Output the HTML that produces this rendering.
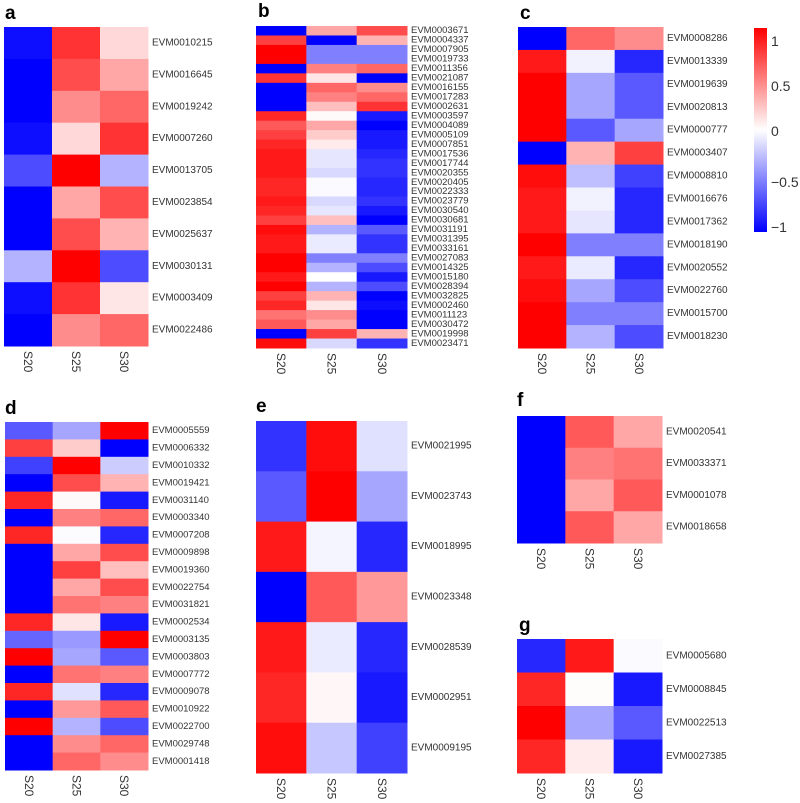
<!DOCTYPE html>
<html><head><meta charset="utf-8"><style>
html,body{margin:0;padding:0;background:#fff;}
svg{display:block;font-family:"Liberation Sans",Arial,sans-serif;}
</style></head><body>
<svg id="fig" width="800" height="803" viewBox="0 0 800 803" xmlns="http://www.w3.org/2000/svg"></svg>
<script>
const samples = ["S20","S25","S30"];
const genesA = ["EVM0010215","EVM0016645","EVM0019242","EVM0007260","EVM0013705","EVM0023854","EVM0025637","EVM0030131","EVM0003409","EVM0022486"];
const valuesA = [[-0.95,0.8,0.15],[-1,0.7,0.35],[-1,0.45,0.6],[-0.95,0.15,0.8],[-0.7,1,-0.3],[-1,0.35,0.7],[-1,0.7,0.3],[-0.3,1,-0.7],[-0.95,0.8,0.1],[-1,0.45,0.6]];
const genesB = ["EVM0003671","EVM0004337","EVM0007905","EVM0019733","EVM0011356","EVM0021087","EVM0016155","EVM0017283","EVM0002631","EVM0003597","EVM0004089","EVM0005109","EVM0007851","EVM0017536","EVM0017744","EVM0020355","EVM0020405","EVM0022333","EVM0023779","EVM0030540","EVM0030681","EVM0031191","EVM0031395","EVM0033161","EVM0027083","EVM0014325","EVM0015180","EVM0028394","EVM0032825","EVM0002460","EVM0011123","EVM0030472","EVM0019998","EVM0023471"];
const valuesB = [[-1,0.35,0.7],[0.75,-1,0.3],[1,-0.5,-0.5],[1,-0.5,-0.5],[-1,0.5,0.6],[0.8,0.1,-1],[-1,0.6,0.45],[-1,0.5,0.6],[-1,0.25,0.8],[0.85,0.02,-0.9],[0.65,0.35,-1],[0.75,0.2,-0.9],[0.85,0.08,-0.9],[0.9,-0.1,-0.85],[0.9,-0.1,-0.8],[0.9,-0.15,-0.8],[0.85,-0.02,-0.85],[0.85,-0.02,-0.85],[0.9,-0.15,-0.8],[0.85,-0.1,-0.9],[0.75,0.25,-1],[0.95,-0.3,-0.65],[0.9,-0.08,-0.8],[0.9,-0.08,-0.8],[1,-0.5,-0.5],[1,-0.3,-0.7],[0.9,0,-0.9],[1,-0.3,-0.7],[0.75,0.3,-1],[0.85,0.1,-0.95],[0.55,0.45,-1],[0.65,0.35,-1],[-1,0.75,0.3],[0.95,-0.15,-0.8]];
const genesC = ["EVM0008286","EVM0013339","EVM0019639","EVM0020813","EVM0000777","EVM0003407","EVM0008810","EVM0016676","EVM0017362","EVM0018190","EVM0020552","EVM0022760","EVM0015700","EVM0018230"];
const valuesC = [[-1,0.6,0.45],[0.9,-0.05,-0.85],[1,-0.35,-0.65],[1,-0.35,-0.65],[1,-0.65,-0.35],[-1,0.3,0.75],[0.95,-0.25,-0.75],[0.9,-0.05,-0.85],[0.9,-0.1,-0.85],[1,-0.5,-0.5],[0.9,-0.08,-0.85],[0.95,-0.35,-0.7],[1,-0.5,-0.5],[1,-0.3,-0.7]];
const genesD = ["EVM0005559","EVM0006332","EVM0010332","EVM0019421","EVM0031140","EVM0003340","EVM0007208","EVM0009898","EVM0019360","EVM0022754","EVM0031821","EVM0002534","EVM0003135","EVM0003803","EVM0007772","EVM0009078","EVM0010922","EVM0022700","EVM0029748","EVM0001418"];
const valuesD = [[-0.65,-0.35,1],[0.75,0.2,-1],[-0.75,1,-0.2],[-1,0.7,0.3],[0.85,0.02,-0.9],[-1,0.5,0.6],[0.85,-0.01,-0.85],[-1,0.35,0.7],[-1,0.75,0.25],[-1,0.35,0.7],[-1,0.55,0.5],[0.85,0.1,-0.9],[-0.6,-0.4,1],[1,-0.35,-0.65],[-1,0.55,0.5],[0.85,-0.12,-0.85],[-1,0.4,0.65],[1,-0.3,-0.7],[-1,0.45,0.6],[-1,0.6,0.45]];
const genesE = ["EVM0021995","EVM0023743","EVM0018995","EVM0023348","EVM0028539","EVM0002951","EVM0009195"];
const valuesE = [[-0.8,0.95,-0.12],[-0.65,1,-0.35],[0.9,-0.04,-0.85],[-1,0.65,0.4],[0.9,-0.08,-0.85],[0.85,0.03,-0.9],[0.95,-0.22,-0.75]];
const genesF = ["EVM0020541","EVM0033371","EVM0001078","EVM0018658"];
const valuesF = [[-1,0.65,0.35],[-1,0.5,0.55],[-1,0.35,0.65],[-1,0.65,0.35]];
const genesG = ["EVM0005680","EVM0008845","EVM0022513","EVM0027385"];
const valuesG = [[-0.85,0.9,-0.02],[0.85,0.01,-0.9],[1,-0.35,-0.65],[0.85,0.08,-0.9]];
const colorTicks = [1,0.5,0,-0.5,-1];

const NS="http://www.w3.org/2000/svg";
const svg=document.getElementById('fig');
function mk(tag,attrs,parent){const e=document.createElementNS(NS,tag);for(const k in attrs)e.setAttribute(k,attrs[k]);(parent||svg).appendChild(e);return e;}
function color(v){v=Math.max(-1,Math.min(1,v));
  if(v>=0){const c=Math.round(255*(1-v));return `rgb(255,${c},${c})`;}
  const c=Math.round(255*(1+v));return `rgb(${c},${c},255)`;}

function panel(letter,lx,ly,genes,vals,x0,y0,x1,y1,fs){
  const g=mk('g',{});
  
  
  const t=mk('text',{x:lx,y:ly,'font-size':19,'font-weight':'bold',fill:'#000'},g);
  t.textContent=letter;
  
  
  const cw=(x1-x0)/samples.length, rh=(y1-y0)/genes.length;
  const xs=i=>x0+i*cw, ys=j=>y0+j*rh;
  vals.forEach((row,j)=>row.forEach((v,i)=>{
    const r=mk('rect',{x:xs(i),y:ys(j),width:cw+0.5,height:rh+0.5,fill:color(v)},g);
    
    
  }));
  genes.forEach((n,j)=>{
    const tx=mk('text',{x:x1+4,y:ys(j)+rh/2,'font-size':fs,fill:'#333','dominant-baseline':'central'},g);
    tx.textContent=n;
    
    
  });
  samples.forEach((s,i)=>{
    const cx=xs(i)+cw/2, cy=y1+5;
    const tx=mk('text',{x:cx,y:cy,'font-size':12,fill:'#333','dominant-baseline':'central',transform:`rotate(90 ${cx} ${cy})`},g);
    tx.textContent=s;
    
    
  });
}
panel('a',5,19,genesA,valuesA,4,27,148,346,10);
panel('b',258,17,genesB,valuesB,256,26,407,348,9.5);
panel('c',520,19,genesC,valuesC,518,27,663,348,10);
panel('d',5,414,genesD,valuesD,5,422,148,770,9.5);
panel('e',256,412,genesE,valuesE,256,421,407,773,10);
panel('f',517,406,genesF,valuesF,517,416,662,543,10);
panel('g',519,631,genesG,valuesG,517,639,662,773,10);

// colorbar
const defs=mk('defs',{});
const lg=mk('linearGradient',{id:'cb',x1:0,y1:0,x2:0,y2:1},defs);
mk('stop',{offset:'0','stop-color':'#ff0000'},lg);
mk('stop',{offset:'0.5','stop-color':'#ffffff'},lg);
mk('stop',{offset:'1','stop-color':'#0000ff'},lg);
const cbg=mk('g',{});


const cb=mk('rect',{x:754,y:28,width:13,height:204,fill:'url(#cb)'},cbg);


const cbY=v=>131-v*90;
colorTicks.forEach(v=>{
  const tx=mk('text',{x:771,y:cbY(v)+(v<0?6:0),'font-size':14,fill:'#333','dominant-baseline':'central'},cbg);
  tx.textContent=v<0?'\u2212'+Math.abs(v):String(v);
  
  
});
</script>
</body></html>
